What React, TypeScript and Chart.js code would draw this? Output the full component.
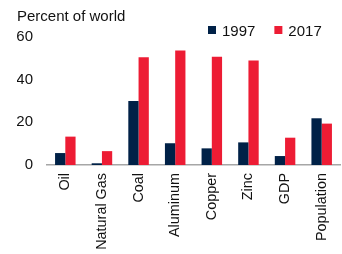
import React, { useEffect, useRef } from "react";
import { Chart, registerables } from "chart.js";

Chart.register(...registerables);

const categories = ["Oil", "Natural Gas", "Coal", "Aluminum", "Copper", "Zinc", "GDP", "Population"];
const values1997 = [5.6, 0.8, 30, 10.2, 7.8, 10.6, 4.2, 21.9];
const values2017 = [13.3, 6.5, 50.5, 53.7, 50.8, 49, 12.8, 19.4];
const yTicks = [0, 20, 40, 60];
const titleText = "Percent of world";
const seriesNames = ["1997", "2017"];
const seriesColors = ["#002147", "#ED1C34"];

const FONT = "'Liberation Sans', Arial, sans-serif";
const FS = 15;

const headerPlugin = {
  id: "header",
  afterDraw(chart: any) {
    const ctx = chart.ctx;
    ctx.save();
    ctx.font = `${FS}px ${FONT}`;
    ctx.fillStyle = "#111";
    ctx.textBaseline = "alphabetic";
    ctx.textAlign = "left";
    ctx.fillText(titleText, 17, 21);
    let x = 208;
    const datasets = chart.data.datasets;
    datasets.forEach((ds: any) => {
      ctx.fillStyle = ds.backgroundColor;
      ctx.fillRect(x, 26, 8, 8);
      ctx.fillStyle = "#111";
      ctx.fillText(ds.label, x + 14, 35.5);
      x += 14 + ctx.measureText(ds.label).width + 19;
    });
    ctx.restore();
  },
};

export default function App() {
  const ref = useRef<HTMLCanvasElement | null>(null);
  useEffect(() => {
    if (!ref.current) return;
    const chart = new Chart(ref.current, {
      type: "bar",
      data: {
        labels: categories,
        datasets: [
          { label: seriesNames[0], data: values1997, backgroundColor: seriesColors[0], borderWidth: 0 },
          { label: seriesNames[1], data: values2017, backgroundColor: seriesColors[1], borderWidth: 0 },
        ],
      },
      plugins: [headerPlugin],
      options: {
        animation: false,
        responsive: false,
        layout: { padding: { left: 17, right: 2, top: 37, bottom: 0 } },
        datasets: { bar: { categoryPercentage: 0.56, barPercentage: 1 } },
        plugins: {
          title: { display: false },
          legend: { display: false },
          tooltip: { enabled: false },
        },
        scales: {
          x: {
            afterFit: (axis: any) => {
              axis.height = 89;
              axis.paddingLeft = 0;
              axis.paddingRight = 0;
            },
            grid: { display: false, drawTicks: false },
            border: { display: true, color: "#a6a6a6", width: 1.5 },
            ticks: {
              color: "#111",
              font: { family: FONT, size: 14.4 },
              minRotation: 90,
              maxRotation: 90,
              padding: 8,
              autoSkip: false,
            },
          },
          y: {
            min: 0,
            max: 60,
            afterBuildTicks: (axis: any) => {
              axis.ticks = yTicks.map((v) => ({ value: v }));
            },
            afterFit: (axis: any) => {
              axis.width = 30;
            },
            grid: { display: false, drawTicks: false },
            border: { display: false },
            ticks: {
              color: "#111",
              font: { family: FONT, size: FS },
              padding: 14,
            },
          },
        },
      },
    });
    return () => chart.destroy();
  }, []);
  return (
    <div style={{ position: "fixed", left: 0, top: 0, width: 342, height: 254, background: "#fff" }}>
      <canvas ref={ref} width={342} height={254} style={{ display: "block" }} />
    </div>
  );
}
